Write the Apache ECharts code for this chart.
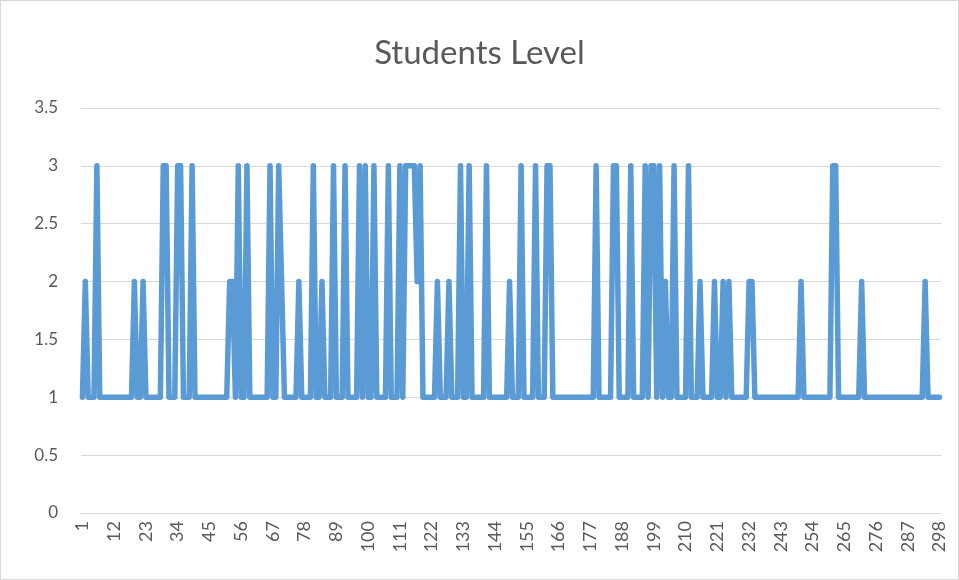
<!DOCTYPE html>
<html>
<head>
<meta charset="utf-8">
<title>Students Level</title>
<script src="https://cdn.jsdelivr.net/npm/echarts@6/dist/echarts.min.js"></script>
<style>
    html, body { margin: 0; padding: 0; background: #fff; }
    #chart { width: 959px; height: 580px; box-sizing: border-box; border: 1px solid #d9d9d9; }
</style>
</head>
<body>
<div id="chart"></div>
<script>
// student level per row (1..298)
const levels = [
    1,2,1,1,1,3,1,1,1,1, 1,1,1,1,1,1,1,1,2,1,
    1,2,1,1,1,1,1,1,3,3, 1,1,1,3,3,1,1,1,3,1,
    1,1,1,1,1,1,1,1,1,1, 1,2,2,1,3,1,1,3,1,1,
    1,1,1,1,1,3,1,1,3,2, 1,1,1,1,1,2,1,1,1,1,
    3,1,1,2,1,1,1,3,1,1, 1,3,1,1,1,1,3,1,3,1,
    1,3,1,1,1,1,3,1,1,1, 3,1,3,3,3,3,2,3,1,1,
    1,1,1,2,1,1,1,2,1,1, 1,3,1,1,3,1,1,1,1,1,
    3,1,1,1,1,1,1,1,2,1, 1,1,3,1,1,1,1,3,1,1,
    1,3,3,1,1,1,1,1,1,1, 1,1,1,1,1,1,1,1,3,1,
    1,1,1,1,3,3,1,1,1,1, 3,1,1,1,1,3,1,3,3,1,
    3,1,2,1,1,3,1,1,1,1, 3,1,1,1,2,1,1,1,1,2,
    1,1,2,1,2,1,1,1,1,1, 1,2,2,1,1,1,1,1,1,1,
    1,1,1,1,1,1,1,1,1,2, 1,1,1,1,1,1,1,1,1,1,
    3,3,1,1,1,1,1,1,1,1, 2,1,1,1,1,1,1,1,1,1,
    1,1,1,1,1,1,1,1,1,1, 1,1,2,1,1,1,1,1
];
const rowNames = levels.map((v, i) => String(i + 1));

const textColor = '#595959';
const gridColor = '#d9d9d9';

const chart = echarts.init(document.getElementById('chart'));
chart.setOption({
    animation: false,
    title: {
        text: 'Students Level',
        left: 'center',
        top: 31,
        textStyle: { fontFamily: 'Lato', fontSize: 33, fontWeight: 'normal', color: textColor }
    },
    grid: { left: 80, right: 17, top: 107, bottom: 66 },
    xAxis: {
        type: 'category',
        data: rowNames,
        boundaryGap: true,
        axisLine: { lineStyle: { color: gridColor, width: 1 } },
        axisTick: { show: false },
        axisLabel: {
            interval: 10,
            rotate: 90,
            margin: 8,
            fontFamily: 'Lato',
            fontSize: 18,
            color: textColor
        }
    },
    yAxis: {
        type: 'value',
        min: 0,
        max: 3.5,
        interval: 0.5,
        axisLine: { show: false },
        axisTick: { show: false },
        splitLine: { lineStyle: { color: gridColor, width: 1 } },
        axisLabel: { margin: 23, fontFamily: 'Lato', fontSize: 17, color: textColor }
    },
    series: [{
        type: 'line',
        data: levels,
        symbol: 'none',
        lineStyle: { color: '#5b9bd5', width: 5.5, cap: 'round', join: 'round' }
    }]
});
</script>
</body>
</html>
